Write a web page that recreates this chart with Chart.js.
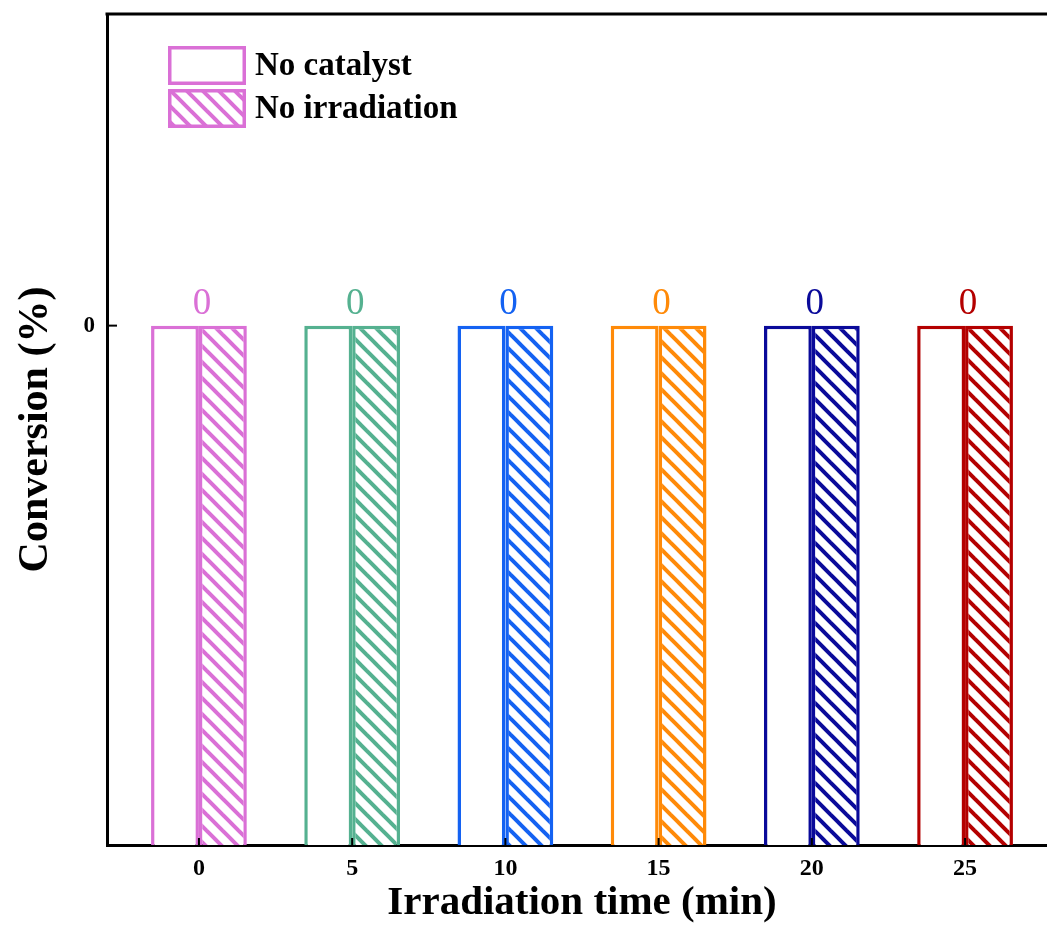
<!DOCTYPE html>
<html><head><meta charset="utf-8">
<script src="https://cdn.jsdelivr.net/npm/chart.js@4/dist/chart.umd.min.js"></script>
<style>html,body{margin:0;padding:0;overflow:hidden;background:#fff;width:1047px;height:933px}canvas{display:block}</style>
</head><body><canvas id="c" width="1060" height="933"></canvas>
<script>
// ---- data ----
const times = [0, 5, 10, 15, 20, 25];
const noCatalyst = [0, 0, 0, 0, 0, 0];
const noIrradiation = [0, 0, 0, 0, 0, 0];
const seriesLabels = ['No catalyst', 'No irradiation'];
const groupColors = ['#DA70D6', '#55B190', '#1462F2', '#FF8A08', '#0A0A9A', '#B40000'];
const xTickValues = [0, 5, 10, 15, 20, 25];
const yTickValues = [0];

const FONT = "'Liberation Serif', 'Times New Roman', serif";
const canvas = document.getElementById('c');
const mainCtx = canvas.getContext('2d');

function hatch(color) {
  const s = 16;
  const c = document.createElement('canvas');
  c.width = s; c.height = s;
  const g = c.getContext('2d');
  g.fillStyle = '#fff'; g.fillRect(0, 0, s, s);
  g.strokeStyle = color; g.lineWidth = 4;
  for (const k of [-s, 0, s]) {
    g.beginPath(); g.moveTo(k - s, -s); g.lineTo(k + 2 * s, 2 * s); g.stroke();
  }
  return mainCtx.createPattern(c, 'repeat');
}
const hatchPatterns = groupColors.map(hatch);

const valueLabels = {
  id: 'valueLabels',
  afterDatasetsDraw(chart) {
    const ctx = chart.ctx;
    const m0 = chart.getDatasetMeta(0), m1 = chart.getDatasetMeta(1);
    const ys = chart.scales.y;
    ctx.save();
    ctx.font = `37px ${FONT}`;
    ctx.textAlign = 'center';
    ctx.textBaseline = 'alphabetic';
    times.forEach((t, i) => {
      const v = Math.max(noCatalyst[i], noIrradiation[i]);
      const x = (m0.data[i].x + m1.data[i].x) / 2;
      ctx.fillStyle = groupColors[i];
      ctx.fillText(String(v), x + 3, ys.getPixelForValue(v) - 12);
    });
    ctx.restore();
  }
};

const frame = {
  id: 'frame',
  afterDraw(chart) {
    const ctx = chart.ctx, a = chart.chartArea;
    ctx.save();
    ctx.strokeStyle = '#000'; ctx.lineWidth = 3;
    ctx.beginPath();
    ctx.moveTo(a.left - 1.5, a.top); ctx.lineTo(a.right, a.top); ctx.lineTo(a.right, a.bottom);
    ctx.stroke();
    ctx.lineWidth = 2;
    chart.scales.x.ticks.forEach(t => {
      const px = chart.scales.x.getPixelForValue(t.value);
      ctx.beginPath(); ctx.moveTo(px, a.bottom); ctx.lineTo(px, a.bottom - 7); ctx.stroke();
    });
    chart.scales.y.ticks.forEach(t => {
      const py = chart.scales.y.getPixelForValue(t.value);
      ctx.beginPath(); ctx.moveTo(a.left, py); ctx.lineTo(a.left + 10, py); ctx.stroke();
    });
    // legend
    const lx = 168, ly = 46, bw = 78, bh = 39, gap = 4;
    ctx.font = `bold 33px ${FONT}`;
    ctx.textAlign = 'left'; ctx.textBaseline = 'middle';
    [0, 1].forEach(k => {
      const y0 = ly + k * (bh + gap);
      ctx.fillStyle = k === 0 ? '#fff' : hatchPatterns[0];
      ctx.fillRect(lx, y0, bw, bh);
      ctx.strokeStyle = groupColors[0]; ctx.lineWidth = 3.5;
      ctx.strokeRect(lx + 1.75, y0 + 1.75, bw - 3.5, bh - 3.5);
      ctx.fillStyle = '#000';
      ctx.fillText(chart.data.datasets[k].label, lx + bw + 9, y0 + bh / 2 + 1);
    });
    ctx.restore();
  }
};

new Chart(canvas, {
  type: 'bar',
  data: {
    datasets: [
      {
        label: seriesLabels[0],
        data: times.map((t, i) => ({ x: t, y: noCatalyst[i] })),
        base: -1,
        backgroundColor: '#ffffff',
        borderColor: groupColors,
        borderWidth: 3.5,
      },
      {
        label: seriesLabels[1],
        data: times.map((t, i) => ({ x: t, y: noIrradiation[i] })),
        base: -1,
        backgroundColor: hatchPatterns,
        borderColor: groupColors,
        borderWidth: 3.5,
      }
    ]
  },
  options: {
    responsive: false,
    animation: false,
    categoryPercentage: 0.625,
    barPercentage: 1,
    layout: { padding: { top: 14, right: 3, left: 0, bottom: 0 } },
    plugins: { legend: { display: false }, tooltip: { enabled: false } },
    scales: {
      x: {
        type: 'linear', min: -3, max: 28, z: 1, offset: false,
        afterBuildTicks: s => { s.ticks = xTickValues.map(v => ({ value: v })); },
        afterFit: s => { s.height = 88; s.paddingLeft = 0; s.paddingRight = 0; },
        grid: { display: false, drawTicks: false },
        border: { display: true, color: '#000', width: 3 },
        ticks: { color: '#000', padding: 9, font: { family: FONT, size: 24, weight: 'bold' } },
        title: { display: true, text: 'Irradiation time (min)', color: '#000', padding: { top: 0, bottom: 5 },
                 font: { family: FONT, size: 41, weight: 'bold' } }
      },
      y: {
        type: 'linear', min: -1, max: 0.6, z: 1,
        afterBuildTicks: s => { s.ticks = yTickValues.map(v => ({ value: v })); },
        afterFit: s => { s.width = 107; s.paddingTop = 0; s.paddingBottom = 0; },
        grid: { display: false, drawTicks: false },
        border: { display: true, color: '#000', width: 3 },
        ticks: { color: '#000', padding: 12, font: { family: FONT, size: 23, weight: 'bold' } },
        title: { display: true, text: 'Conversion (%)', color: '#000', padding: { top: 11, bottom: 0 },
                 font: { family: FONT, size: 42, weight: 'bold' } }
      }
    }
  },
  plugins: [valueLabels, frame]
});
</script></body></html>
